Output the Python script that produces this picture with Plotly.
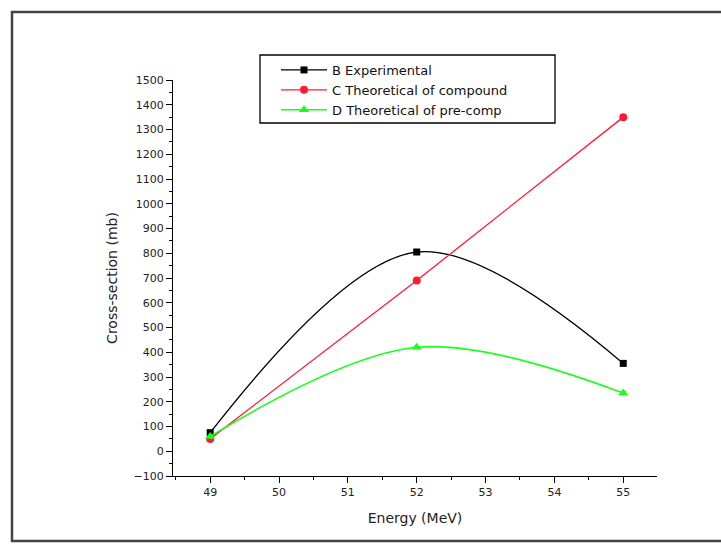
import plotly.graph_objects as go

# Energy points (MeV) and cross-sections (mb)
energy = [49, 52, 55]
experimental = [75, 805, 355]
compound = [50, 690, 1350]
precomp = [60, 420, 235]

series_names = ["B Experimental", "C Theoretical of compound", "D Theoretical of pre-comp"]

fig = go.Figure()
fig.add_trace(go.Scatter(
    x=energy, y=experimental, name=series_names[0], mode="lines+markers",
    line=dict(color="black", width=1.3, shape="spline", smoothing=1.0),
    marker=dict(symbol="square", size=7, color="black"),
))
fig.add_trace(go.Scatter(
    x=energy, y=compound, name=series_names[1], mode="lines+markers",
    line=dict(color="#ff1a33", width=1.3),
    marker=dict(symbol="circle", size=8, color="#ff1a33"),
))
fig.add_trace(go.Scatter(
    x=energy, y=precomp, name=series_names[2], mode="lines+markers",
    line=dict(color="#1aff1a", width=1.6, shape="spline", smoothing=1.0),
    marker=dict(symbol="triangle-up", size=9, color="#1aff1a"),
))

W, H = 721, 546
L, R, T, B = 173, 64, 80, 70
pw, ph = W - L - R, H - T - B

def px_x(p):
    return (p - L) / pw

def px_y(p):
    return (H - B - p) / ph

FONT = "DejaVu Sans, Verdana, sans-serif"
axis_font = dict(family=FONT, size=11, color="#222")
title_font = dict(family=FONT, size=14, color="#222")

fig.update_layout(
    width=W, height=H,
    margin=dict(l=L, r=R, t=T, b=B),
    paper_bgcolor="white", plot_bgcolor="white",
    font=dict(family=FONT, size=11, color="#111"),
    showlegend=True,
    legend=dict(
        x=px_x(276), y=px_y(55), xanchor="left", yanchor="top",
        borderwidth=0, bgcolor="rgba(0,0,0,0)",
        font=dict(family=FONT, size=13, color="#111"), tracegroupgap=0,
        itemwidth=46,
    ),
    xaxis=dict(
        range=[48.46, 55.49], tickvals=energy + [50, 51, 53, 54],
        ticks="outside", ticklen=6, tickwidth=1.2, tickcolor="black",
        showline=True, linecolor="black", linewidth=1.3,
        showgrid=False, zeroline=False, tickfont=axis_font,
        minor=dict(dtick=0.5, tick0=48.5, ticks="outside", ticklen=3, tickcolor="black"),
        title=dict(text="Energy (MeV)", font=title_font, standoff=14),
    ),
    yaxis=dict(
        range=[-100, 1500], dtick=100,
        ticks="outside", ticklen=6, tickwidth=1.2, tickcolor="black",
        showline=True, linecolor="black", linewidth=1.3,
        showgrid=False, zeroline=False, tickfont=axis_font,
        minor=dict(dtick=50, ticks="outside", ticklen=3, tickcolor="black"),
        title=dict(text="Cross-section (mb)", font=title_font, standoff=12),
    ),
    shapes=[
        # outer frame
        dict(
            type="rect", xref="paper", yref="paper",
            x0=px_x(12), x1=px_x(730), y0=px_y(541), y1=px_y(12),
            line=dict(color="#444", width=2.5), fillcolor="rgba(0,0,0,0)", layer="below",
        ),
        # legend box
        dict(
            type="rect", xref="paper", yref="paper",
            x0=px_x(260), x1=px_x(555), y0=px_y(123), y1=px_y(55),
            line=dict(color="black", width=1.3), fillcolor="white", layer="below",
        ),
    ],
)

fig.write_html("out.html")
